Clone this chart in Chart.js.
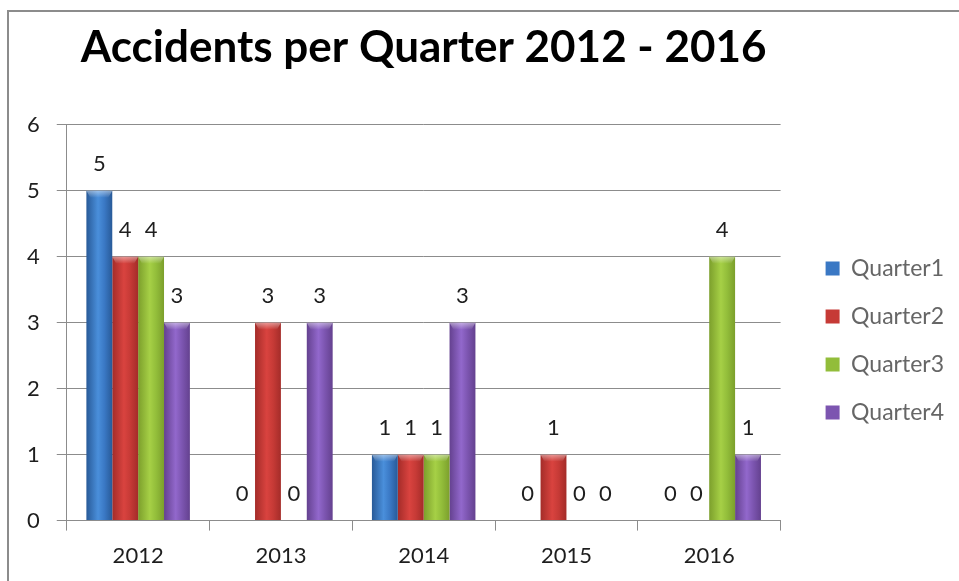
<!DOCTYPE html>
<html>
<head>
<meta charset="utf-8">
<title>Accidents per Quarter 2012 - 2016</title>
<script src="https://cdn.jsdelivr.net/npm/chart.js@4.4.1/dist/chart.umd.min.js"></script>
<style>
  html, body { margin: 0; padding: 0; background: #fff; }
  .chart-wrap { position: relative; width: 959px; height: 581px; overflow: hidden; }
  .chart-frame { position: absolute; left: 7px; top: 10px; width: 980px; height: 600px; border-left: 2px solid #8c8c8c; border-top: 2px solid #8c8c8c; }
  #accident-chart { position: absolute; left: 0; top: 0; }
</style>
</head>
<body>
<div class="chart-wrap">
  <div class="chart-frame"></div>
  <canvas id="accident-chart" width="959" height="581"></canvas>
</div>
<script>
const years = ['2012', '2013', '2014', '2015', '2016'];
const quarter1 = [5, 0, 1, 0, 0];
const quarter2 = [4, 3, 1, 1, 0];
const quarter3 = [4, 0, 1, 0, 4];
const quarter4 = [3, 3, 3, 0, 1];
const yTicks = [0, 1, 2, 3, 4, 5, 6];

const seriesNames = ['Quarter1', 'Quarter2', 'Quarter3', 'Quarter4'];
const seriesValues = [quarter1, quarter2, quarter3, quarter4];

// [edge, centre, flat] shades per series
const seriesShades = [
  ['#285a98', '#4a8fdb', '#3a78c4'],
  ['#a42c29', '#d9433f', '#c63a36'],
  ['#7c9f2c', '#a6d046', '#92bd3a'],
  ['#64418f', '#9268cc', '#7c55b0']
];

const FONT = 'Lato';

const accidentChart = {
  // horizontal edge-to-centre gradient once the bar has a position
  barFill(shades) {
    return function (context) {
      const bar = context.element;
      if (!bar || !Number.isFinite(bar.x) || !Number.isFinite(bar.width)) {
        return shades[2];
      }
      const left = bar.x - bar.width / 2;
      const g = context.chart.ctx.createLinearGradient(left, 0, left + bar.width, 0);
      g.addColorStop(0, shades[0]);
      g.addColorStop(0.45, shades[1]);
      g.addColorStop(0.7, shades[2]);
      g.addColorStop(1, shades[0]);
      return g;
    };
  },

  buildDatasets() {
    return seriesNames.map((name, i) => ({
      label: name,
      data: seriesValues[i],
      yAxisID: 'y',
      backgroundColor: this.barFill(seriesShades[i]),
      borderWidth: 0,
      barPercentage: 1,
      categoryPercentage: 0.725
    }));
  },

  // value above each bar, plus a light bevel on the bar top
  valueLabels: {
    id: 'valueLabels',
    afterDatasetsDraw(chart) {
      const ctx = chart.ctx;
      ctx.save();
      chart.data.datasets.forEach((ds, i) => {
        chart.getDatasetMeta(i).data.forEach((bar, j) => {
          if (ds.data[j] > 0) {
            const left = bar.x - bar.width / 2;
            const shine = ctx.createLinearGradient(0, bar.y, 0, bar.y + 7);
            shine.addColorStop(0, 'rgba(255,255,255,0.45)');
            shine.addColorStop(1, 'rgba(255,255,255,0)');
            ctx.fillStyle = shine;
            ctx.beginPath();
            ctx.moveTo(left, bar.y);
            ctx.lineTo(left + bar.width, bar.y);
            ctx.lineTo(left + bar.width - 4, bar.y + 7);
            ctx.lineTo(left + 4, bar.y + 7);
            ctx.closePath();
            ctx.fill();
          }
          ctx.font = '22px ' + FONT;
          ctx.fillStyle = '#1e1e1e';
          ctx.textAlign = 'center';
          ctx.textBaseline = 'middle';
          ctx.fillText(String(ds.data[j]), bar.x, bar.y - 27);
        });
      });
      ctx.restore();
    }
  },

  init() {
    const ctx = document.getElementById('accident-chart');
    const chart = new Chart(ctx, {
      type: 'bar',
      data: {
        labels: years,
        datasets: this.buildDatasets()
      },
      plugins: [this.valueLabels],
      options: {
        responsive: false,
        animation: false,
        devicePixelRatio: 1,
        layout: {
          padding: { left: 10, right: 5, top: 0, bottom: 0 }
        },
        scales: {
          x: {
            offset: true,
            grid: {
              offset: true,
              drawOnChartArea: false,
              drawTicks: true,
              tickLength: 10,
              color: '#8c8c8c'
            },
            border: { display: true, color: '#8c8c8c' },
            ticks: {
              padding: 12,
              color: '#1e1e1e',
              font: { family: FONT, size: 22 }
            }
          },
          y: {
            min: yTicks[0],
            max: yTicks[yTicks.length - 1],
            afterBuildTicks(scale) {
              scale.ticks = yTicks.map(v => ({ value: v }));
            },
            grid: {
              color: '#8c8c8c',
              tickLength: 10
            },
            border: { display: true, color: '#8c8c8c' },
            ticks: {
              padding: 17,
              color: '#1e1e1e',
              font: { family: FONT, size: 22 }
            }
          },
          // keeps a little space between the plot and the legend
          gap: {
            position: 'right',
            grid: { display: false, drawTicks: false },
            border: { display: false },
            ticks: { display: false },
            afterFit(scale) {
              scale.width = 20;
            }
          }
        },
        plugins: {
          title: {
            display: true,
            fullSize: false,
            text: 'Accidents per Quarter 2012 - 2016',
            color: '#000',
            font: { family: FONT, size: 44, weight: 'bold' },
            padding: { top: 21, bottom: 51 }
          },
          legend: {
            position: 'right',
            fullSize: false,
            title: { display: true, text: '', padding: { top: 21, bottom: 0 } },
            labels: {
              boxWidth: 14,
              boxHeight: 14,
              padding: 25,
              color: '#1e1e1e',
              font: { family: FONT, size: 23 },
              generateLabels(chart) {
                return chart.data.datasets.map((ds, i) => ({
                  text: ds.label,
                  fillStyle: seriesShades[i][2],
                  strokeStyle: seriesShades[i][0],
                  lineWidth: 0,
                  hidden: false,
                  datasetIndex: i
                }));
              }
            }
          },
          tooltip: { enabled: false }
        }
      }
    });

    // second pass so every bar resolves its gradient from its own position
    chart.update();
  }
};

accidentChart.init();
</script>
</body>
</html>
